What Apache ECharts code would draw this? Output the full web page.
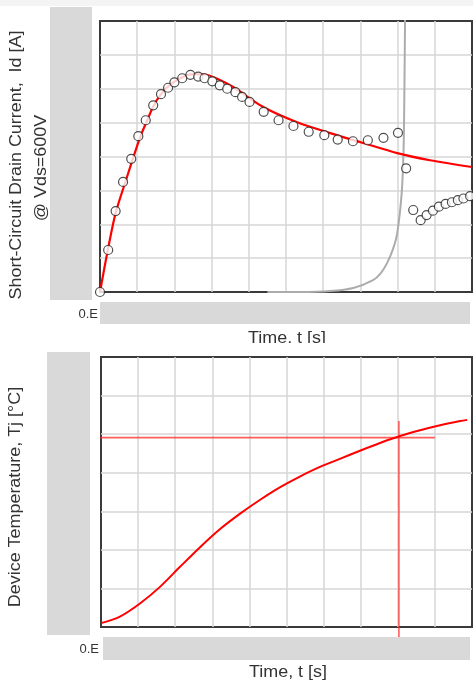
<!DOCTYPE html>
<html>
<head>
<meta charset="utf-8">
<script src="https://cdn.jsdelivr.net/npm/echarts@6/dist/echarts.min.js"></script>
<style>
html,body{margin:0;padding:0;background:#fff;}
#c{width:473px;height:683px;}
</style>
</head>
<body>
<div id="c"></div>
<script>
// ---- Top chart: short-circuit drain current (x in grid units of time, y in grid units of current)
const currentFit = [
  [0,0],[0.21,1.24],[0.42,2.33],[0.68,3.24],[0.88,3.92],[1.09,4.60],[1.27,5.07],
  [1.44,5.50],[1.62,5.81],[1.81,6.05],[2.16,6.31],[2.51,6.43],[2.83,6.42],
  [3.18,6.28],[3.58,6.05],[4.39,5.46],[5.30,5.01],[6.19,4.69],[7.07,4.40],
  [7.99,4.10],[8.87,3.89],[10.0,3.69]
];
const currentMeasured = [
  [0,0],[0.22,1.24],[0.42,2.39],[0.62,3.25],[0.84,3.93],[1.03,4.60],[1.23,5.07],
  [1.43,5.51],[1.64,5.84],[1.83,6.03],[2.00,6.19],[2.21,6.31],[2.43,6.41],
  [2.64,6.36],[2.81,6.31],[3.02,6.22],[3.22,6.10],[3.42,6.00],[3.64,5.90],
  [3.82,5.76],[4.02,5.61],[4.40,5.32],[4.80,5.07],[5.20,4.90],[5.61,4.73],
  [6.03,4.63],[6.39,4.50],[6.80,4.45],[7.20,4.48],[7.62,4.55],[8.01,4.70],
  [8.23,3.65],[8.42,2.42],[8.62,2.12],[8.78,2.27],[8.95,2.40],[9.11,2.52],
  [9.29,2.60],[9.46,2.65],[9.62,2.71],[9.77,2.76],[9.95,2.83]
];
const leakageCurve = [
  [4.5,0],[5.38,0],[6.19,0.03],[6.81,0.12],[7.34,0.35],[7.55,0.56],[7.72,0.86],
  [7.88,1.28],[7.99,1.74],[8.11,2.92],[8.16,4.19],[8.18,5.66],[8.20,8.0],[8.21,9.0]
];
// ---- Bottom chart: device temperature
const temperatureCurve = [
  [0,0.10],[0.51,0.27],[1.05,0.61],[1.59,1.04],[2.13,1.56],[2.67,2.07],[3.21,2.54],
  [3.75,2.94],[4.29,3.30],[4.82,3.62],[5.36,3.90],[5.90,4.15],[6.44,4.36],
  [6.98,4.57],[7.52,4.77],[8.06,4.95],[8.60,5.10],[9.14,5.23],[9.68,5.34],[9.87,5.37]
];
const markerLevel = [[-0.30,4.91],[9.0,4.91]];
const markerTime = [[8.03,5.34],[8.03,-0.26]];

const xMaxTop = 10, yMaxTop = 8, xMaxBot = 10, yMaxBot = 7;
const tickLabelZero = '0.E';
const xTitle = 'Time, t [s]';
const yTitleTop1 = 'Short-Circuit Drain Current,  Id [A]';
const yTitleTop2 = '@ Vds=600V';
const yTitleBot = 'Device Temperature, Tj [\u00b0C]';

const FONT = '"Liberation Sans", Arial, sans-serif';
const gridStyle = {show:true, borderColor:'#3a3a3a', borderWidth:2, backgroundColor:'#fff'};
function valAxis(gi, max){
  return {type:'value', gridIndex:gi, min:0, max:max, interval:1,
    axisLine:{show:false}, axisTick:{show:false}, axisLabel:{show:false},
    splitLine:{show:true, showMinLine:false, showMaxLine:false, lineStyle:{color:'#d6d6d6', width:1.5}}};
}
function txt(x,y,s,opt){
  return {type:'text', x:x, y:y, z:100, style:Object.assign({text:s, fill:'#333', font:'16px '+FONT, align:'center', verticalAlign:'middle'}, opt||{})};
}
const chart = echarts.init(document.getElementById('c'), null, {renderer:'canvas'});
chart.setOption({
  animation:false,
  backgroundColor:'#fff',
  grid:[
    Object.assign({left:100, top:21, right:1, height:271}, gridStyle),
    Object.assign({left:101, top:357, right:1, height:270}, gridStyle)
  ],
  xAxis:[valAxis(0,xMaxTop), valAxis(1,xMaxBot)],
  yAxis:[valAxis(0,yMaxTop), valAxis(1,yMaxBot)],
  series:[
    {type:'line', xAxisIndex:0, yAxisIndex:0, data:leakageCurve, smooth:0.3, showSymbol:false, z:2,
      lineStyle:{color:'#acacac', width:2}},
    {type:'line', xAxisIndex:0, yAxisIndex:0, data:currentFit, smooth:0.3, showSymbol:false, z:3,
      lineStyle:{color:'#ff0000', width:2.2}},
    {type:'scatter', xAxisIndex:0, yAxisIndex:0, data:currentMeasured, symbol:'circle', symbolSize:9, z:4,
      itemStyle:{color:'#fff', borderColor:'#222', borderWidth:1.2}},
    {type:'line', xAxisIndex:1, yAxisIndex:1, data:markerLevel, showSymbol:false, clip:false, z:2,
      lineStyle:{color:'rgba(255,40,40,0.75)', width:1.6}},
    {type:'line', xAxisIndex:1, yAxisIndex:1, data:markerTime, showSymbol:false, clip:false, z:2,
      lineStyle:{color:'rgba(255,40,40,0.75)', width:1.6}},
    {type:'line', xAxisIndex:1, yAxisIndex:1, data:temperatureCurve, smooth:0.3, showSymbol:false, z:3,
      lineStyle:{color:'#ff0000', width:2}}
  ],
  graphic:[
    {type:'rect', shape:{x:0,y:0,width:473,height:6}, style:{fill:'#f4f4f4'}, z:90},
    // redaction boxes over tick labels
    {type:'rect', shape:{x:50,y:7,width:42,height:293}, style:{fill:'#d9d9d9'}, z:90},
    {type:'rect', shape:{x:100,y:302,width:370,height:22}, style:{fill:'#d9d9d9'}, z:90},
    {type:'rect', shape:{x:47,y:352,width:43,height:283}, style:{fill:'#d9d9d9'}, z:90},
    {type:'rect', shape:{x:103,y:637,width:367,height:23}, style:{fill:'#d9d9d9'}, z:90},
    txt(98,314,tickLabelZero,{align:'right', font:'13px '+FONT}),
    txt(99,649,tickLabelZero,{align:'right', font:'13px '+FONT}),
    Object.assign(txt(287,339,xTitle),{scaleX:1.12}),
    {type:'rect', shape:{x:230,y:343,width:120,height:6}, style:{fill:'#fff'}, z:101},
    Object.assign(txt(288,673,xTitle),{scaleX:1.12}),
    Object.assign(txt(17,165,yTitleTop1),{rotation:Math.PI/2, scaleX:1.12}),
    Object.assign(txt(42,168,yTitleTop2),{rotation:Math.PI/2, scaleX:1.12}),
    Object.assign(txt(16,497,yTitleBot),{rotation:Math.PI/2, scaleX:1.12})
  ]
});
</script>
</body>
</html>
